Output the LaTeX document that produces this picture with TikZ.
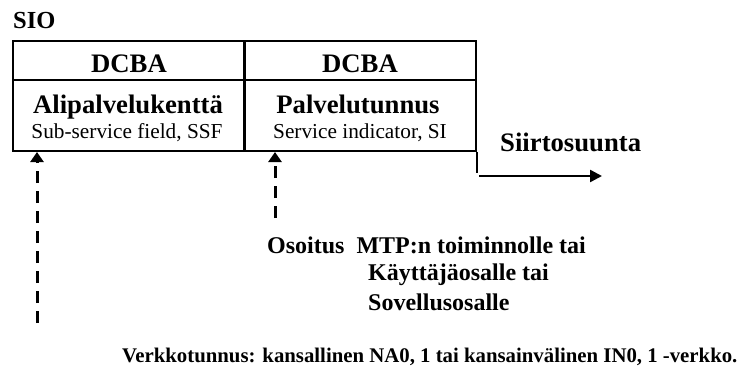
\documentclass[tikz,border=0pt]{standalone}
\usepackage{fontspec}
\setmainfont{Liberation Serif}
\usetikzlibrary{arrows.meta}
\tikzset{
  cell/.style={draw, line width=2pt, minimum width=232pt, inner sep=0pt},
  txt/.style={inner sep=0pt, anchor=base},
  bigb/.style={font=\fontsize{26.7}{30}\selectfont\bfseries},
  smallr/.style={font=\fontsize{21.3}{24}\selectfont},
  dasharrow/.style={line width=3pt, dash pattern=on 12pt off 8pt,
    -{Triangle[length=10pt,width=13pt]}},
  dirarrow/.style={line width=2.5pt, -{Triangle[length=12pt,width=12pt]}}
}
\begin{document}
\begin{tikzpicture}[x=1pt,y=-1pt]
\useasboundingbox (0,0) rectangle (741,367);
\node[txt, anchor=base west, font=\fontsize{24.5}{28}\selectfont\bfseries] (sio) at (13,28) {SIO};
% kentat
\node[cell, minimum height=39pt] (dcbaL) at (129,60.5) {};
\node[cell, minimum height=39pt] (dcbaR) at (360,60.5) {};
\node[cell, minimum height=71pt] (ssf) at (129,115.5) {};
\node[cell, minimum height=71pt] (si) at (360,115.5) {};
\node[txt, bigb] (dL) at (129,72) {DCBA};
\node[txt, bigb] (dR) at (360,72) {DCBA};
\node[txt, bigb] (ali) at (128,113) {Alipalvelukenttä};
\node[txt, smallr] (ssft) at (127,138) {Sub-service field, SSF};
\node[txt, bigb] (pal) at (358,113) {Palvelutunnus};
\node[txt, smallr] (sit) at (360,138) {Service indicator, SI};
% siirtosuunta
\coordinate (corner) at (si.south east |- 0,173);
\coordinate (dirS) at (479,176);
\coordinate (dirE) at (602,176);
\draw[line width=2pt] (si.south east) -- (corner);
\draw[dirarrow] (dirS) -- (dirE);
\node[txt, anchor=base west, bigb] (siirto) at (500,151) {Siirtosuunta};
% osoitteet
\coordinate (verkkoEnd) at (37,323);
\coordinate (osEnd) at (275,218);
\draw[dasharrow] (verkkoEnd) -- (verkkoEnd |- ssf.south);
\draw[dasharrow] (osEnd) -- (osEnd |- si.south);
\node[txt, anchor=base west, font=\fontsize{24}{28}\selectfont\bfseries] (os1) at (267,253) {Osoitus\ \ MTP:n toiminnolle tai};
\node[txt, anchor=base west, font=\fontsize{24}{28}\selectfont\bfseries] (os2) at (368,280) {Käyttäjäosalle tai};
\node[txt, anchor=base west, font=\fontsize{24}{28}\selectfont\bfseries] (os3) at (368,310) {Sovellusosalle};
\node[txt, anchor=base west, font=\fontsize{20.8}{24}\selectfont\bfseries] (verkko) at (122,362) {Verkkotunnus: kansallinen NA0, 1 tai kansainvälinen IN0, 1 -verkko.};
\end{tikzpicture}
\end{document}
